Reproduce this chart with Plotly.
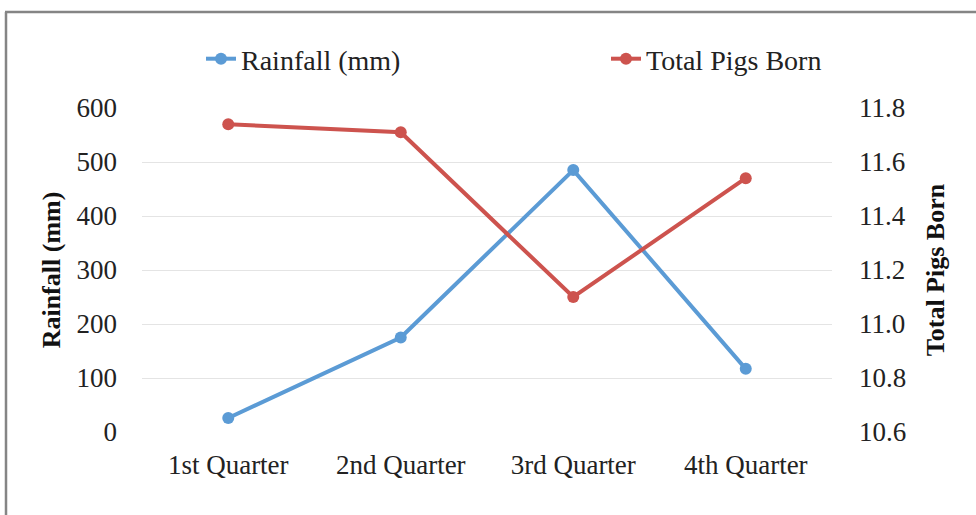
import plotly.graph_objects as go

quarters = ["1st Quarter", "2nd Quarter", "3rd Quarter", "4th Quarter"]
rainfall_mm = [26, 175, 485, 117]
total_pigs_born = [11.74, 11.71, 11.10, 11.54]

BLUE = "#5B9BD5"
RED = "#CD534E"
FONT = "Liberation Serif"

W, H = 976, 515
L, R, T, B = 142, 144, 108, 83
pw, ph = W - L - R, H - T - B


def px_x(x):
    return (x - L) / pw


def px_y(y):
    return (H - B - y) / ph


fig = go.Figure()
fig.add_trace(go.Scatter(
    x=quarters, y=rainfall_mm, name="Rainfall (mm)", mode="lines+markers",
    line=dict(color=BLUE, width=4), marker=dict(size=12, color=BLUE),
    legend="legend", yaxis="y",
))
fig.add_trace(go.Scatter(
    x=quarters, y=total_pigs_born, name="Total Pigs Born", mode="lines+markers",
    line=dict(color=RED, width=4), marker=dict(size=12, color=RED),
    legend="legend2", yaxis="y2",
))

tick_font = dict(family=FONT, size=27, color="#222222")
title_font = dict(family=FONT, size=26, color="#111111", weight="bold")
legend_font = dict(family=FONT, size=28, color="#222222")

fig.update_layout(
    width=W, height=H,
    margin=dict(l=L, r=R, t=T, b=B),
    paper_bgcolor="white", plot_bgcolor="white",
    font=dict(family=FONT, color="#222222"),
    xaxis=dict(
        type="category", showgrid=False, showline=False, zeroline=False,
        ticks="", tickfont=tick_font, ticklabelstandoff=14,
        range=[-0.5, 3.5],
    ),
    yaxis=dict(
        range=[0, 600], dtick=100, showgrid=True, gridcolor="#E4E4E4",
        gridwidth=1, zeroline=False, showline=False, ticks="",
        tickfont=tick_font, ticklabelstandoff=24,
        title=dict(text="Rainfall (mm)", font=title_font, standoff=8),
    ),
    yaxis2=dict(
        range=[10.6, 11.8], dtick=0.2, tickformat=".1f", overlaying="y",
        side="right", showgrid=False, zeroline=False, showline=False,
        ticks="", tickfont=tick_font, ticklabelstandoff=26,
        title=dict(text="Total Pigs Born", font=title_font, standoff=20),
    ),
    legend=dict(
        x=px_x(201), y=px_y(59), xanchor="left", yanchor="middle",
        font=legend_font, bgcolor="rgba(0,0,0,0)", itemwidth=30,
    ),
    legend2=dict(
        x=px_x(606), y=px_y(59), xanchor="left", yanchor="middle",
        font=legend_font, bgcolor="rgba(0,0,0,0)", itemwidth=30,
    ),
    shapes=[
        dict(type="line", xref="paper", yref="paper",
             x0=px_x(5), x1=px_x(W + 2), y0=px_y(12), y1=px_y(12),
             line=dict(color="#858585", width=2.5)),
        dict(type="line", xref="paper", yref="paper",
             x0=px_x(6), x1=px_x(6), y0=px_y(12), y1=px_y(H + 2),
             line=dict(color="#858585", width=2.5)),
    ],
    showlegend=True,
)

fig.write_html("out.html")
